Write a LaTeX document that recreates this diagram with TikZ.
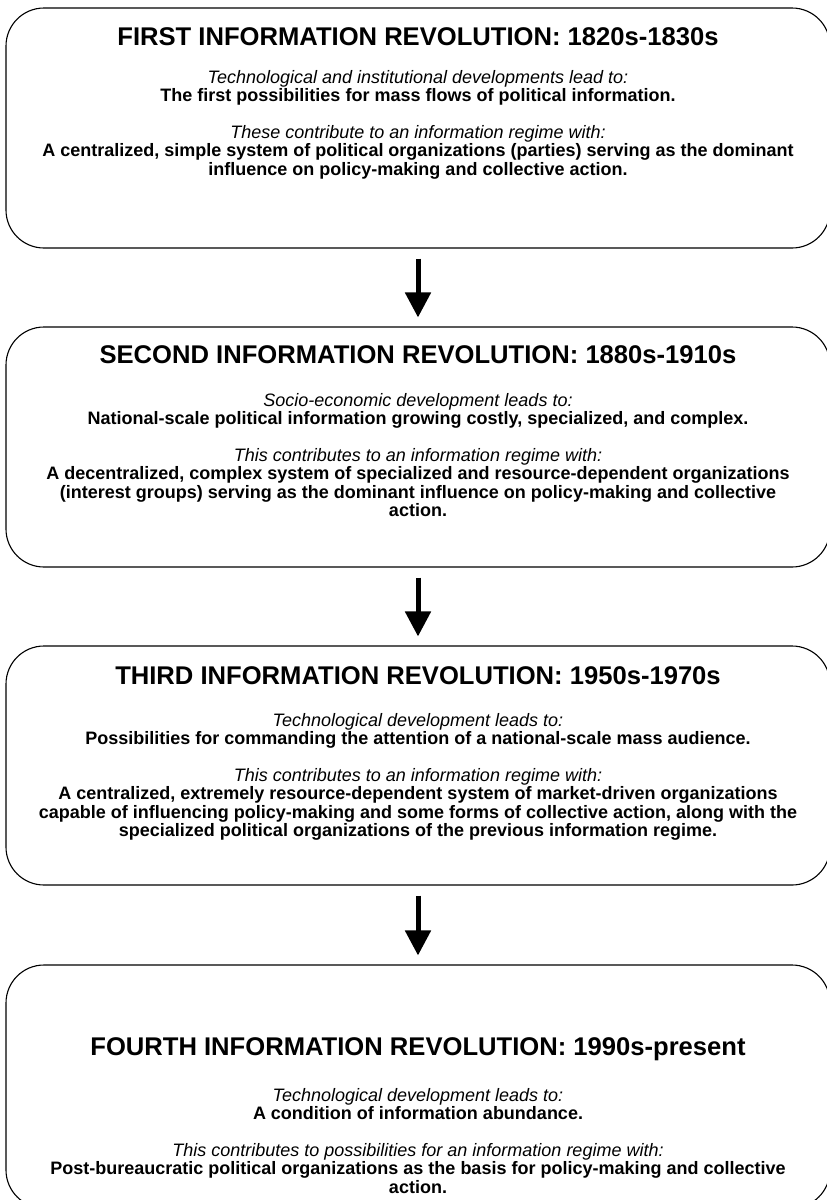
\documentclass[tikz,border=0pt]{standalone}
\usepackage{fontspec}
\setmainfont{Liberation Sans}
\usetikzlibrary{arrows.meta}

\begin{document}
\begin{tikzpicture}[x=1pt,y=-1pt,
  stage/.style={draw,line width=1.1pt,rounded corners=38pt,minimum width=824pt,inner sep=0pt},
  heading/.style={font=\bfseries\fontsize{25.6}{30}\selectfont,inner sep=0pt},
  body/.style={align=center,inner sep=0pt,anchor=north,font=\fontsize{18}{18.4}\selectfont},
  flow/.style={line width=5pt,-{Triangle[width=25pt,length=25pt]},shorten <=10pt,shorten >=9pt}]
\useasboundingbox (0,0) rectangle (827,1200);
\clip (0,0) rectangle (827,1200);
% the four boxes
\node[stage,minimum height=240pt] (rev1) at (418,128) {};
\node[stage,minimum height=240pt] (rev2) at (418,447) {};
\node[stage,minimum height=239pt] (rev3) at (418,765.5) {};
\node[stage,minimum height=243pt] (rev4) at (418,1086.5) {};
% first
\node[heading] (rev1head) at (418,37) {FIRST INFORMATION REVOLUTION: 1820s-1830s};
\node[body] (rev1text) at (418,70) {\textit{Technological and institutional developments lead to:}\\
  \textbf{The first possibilities for mass flows of political information.}\\[18.4pt]
  \textit{These contribute to an information regime with:}\\
  \textbf{A centralized, simple system of political organizations (parties) serving as the dominant}\\
  \textbf{influence on policy-making and collective action.}};
% second
\node[heading] (rev2head) at (418,355) {SECOND INFORMATION REVOLUTION: 1880s-1910s};
\node[body] (rev2text) at (418,393) {\textit{Socio-economic development leads to:}\\
  \textbf{National-scale political information growing costly, specialized, and complex.}\\[18.4pt]
  \textit{This contributes to an information regime with:}\\
  \textbf{A decentralized, complex system of specialized and resource-dependent organizations}\\
  \textbf{(interest groups) serving as the dominant influence on policy-making and collective}\\
  \textbf{action.}};
% third
\node[heading] (rev3head) at (418,676) {THIRD INFORMATION REVOLUTION: 1950s-1970s};
\node[body] (rev3text) at (418,713) {\textit{Technological development leads to:}\\
  \textbf{Possibilities for commanding the attention of a national-scale mass audience.}\\[18.4pt]
  \textit{This contributes to an information regime with:}\\
  \textbf{A centralized, extremely resource-dependent system of market-driven organizations}\\
  \textbf{capable of influencing policy-making and some forms of collective action, along with the}\\
  \textbf{specialized political organizations of the previous information regime.}};
% fourth
\node[heading] (rev4head) at (418,1049) {FOURTH INFORMATION REVOLUTION: 1990s-present};
\node[body] (rev4text) at (418,1088) {\textit{Technological development leads to:}\\
  \textbf{A condition of information abundance.}\\[18.4pt]
  \textit{This contributes to possibilities for an information regime with:}\\
  \textbf{Post-bureaucratic political organizations as the basis for policy-making and collective}\\
  \textbf{action.}};
% arrows between
\draw[flow] (rev1) -- (rev2);
\draw[flow] (rev2) -- (rev3);
\draw[flow] (rev3) -- (rev4);
\end{tikzpicture}
\end{document}
